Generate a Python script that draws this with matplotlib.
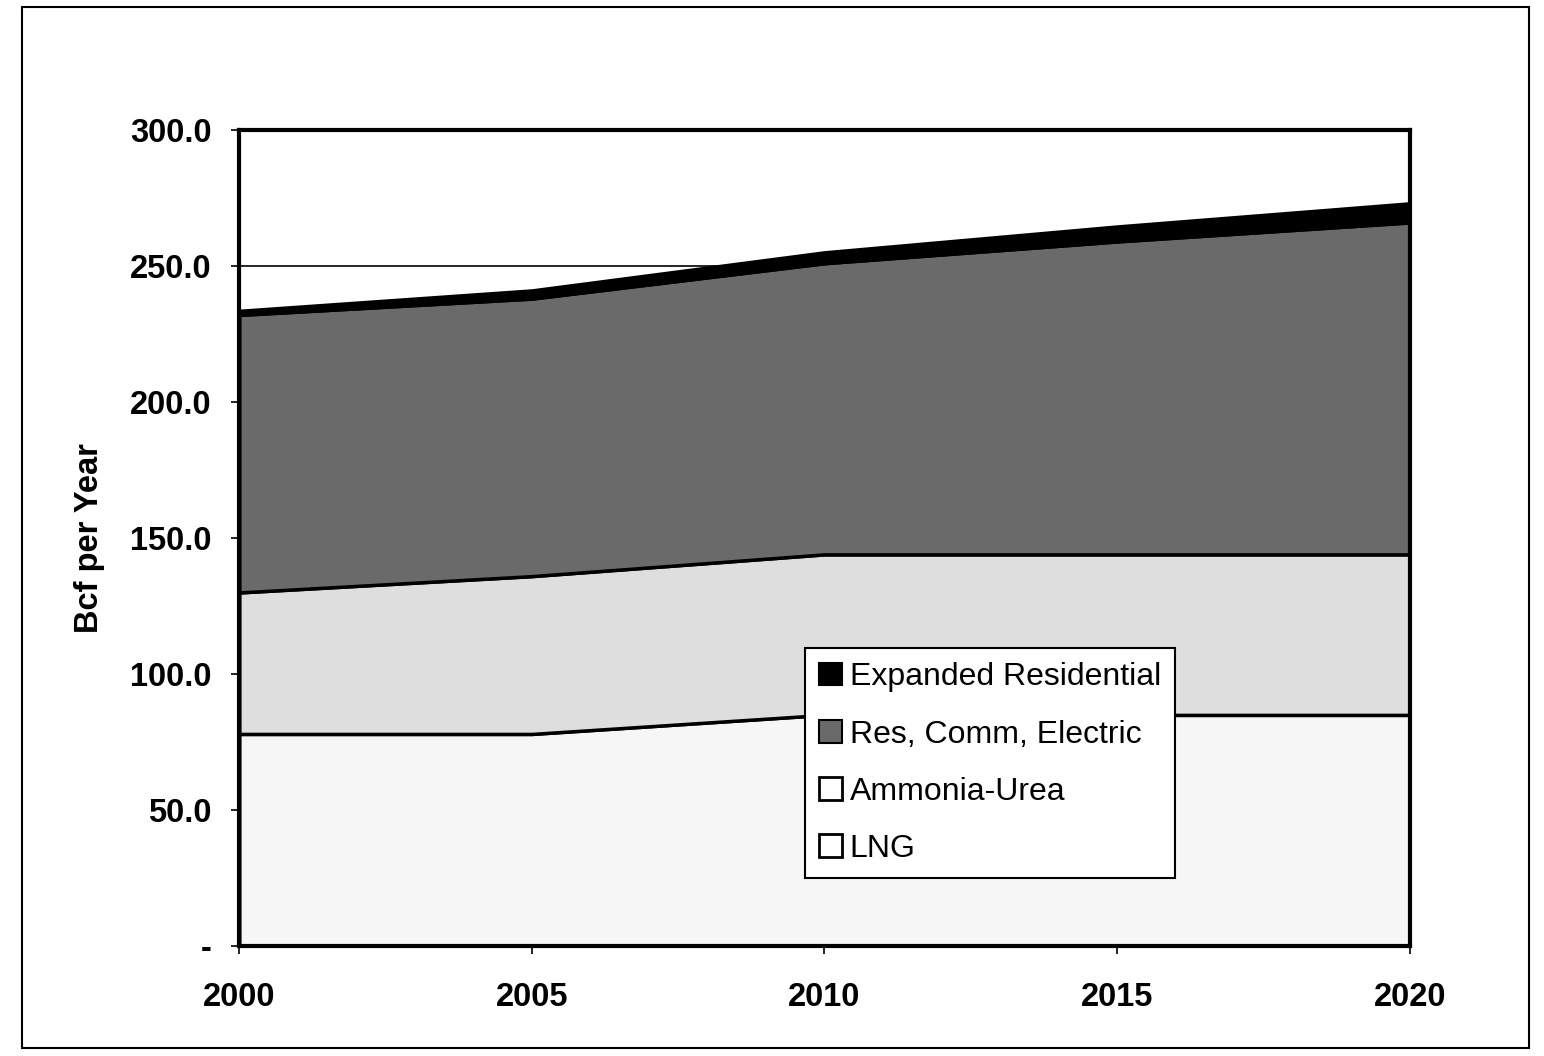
import matplotlib.pyplot as plt
from matplotlib.patches import Patch, Rectangle

# data (Bcf per year)
years = [2000, 2005, 2010, 2015, 2020]
lng = [78, 78, 85, 85, 85]
ammonia_urea = [52, 58, 59, 59, 59]
res_comm_elec = [102, 102, 107, 115, 122]
expanded_res = [1.5, 3, 4, 5.5, 7]
labels = ['LNG', 'Ammonia-Urea', 'Res, Comm, Electric', 'Expanded Residential']
colors = ['#f6f6f6', '#dedede', '#6a6a6a', '#000000']

plt.rcParams['font.family'] = ['Liberation Sans', 'DejaVu Sans']

fig = plt.figure(figsize=(15.44, 10.56), dpi=100)
ax = fig.add_axes([0.155, 0.104, 0.758, 0.773])

ax.yaxis.grid(True, color='black', linewidth=1.2, zorder=0)
ax.set_axisbelow(True)

stacks = ax.stackplot(years, lng, ammonia_urea, res_comm_elec, expanded_res,
                      colors=colors, edgecolor='black', linewidth=2.5, zorder=2)

ax.set_xlim(2000, 2020)
ax.set_ylim(0, 300)
ax.set_xticks(years)
ax.set_yticks([0, 50, 100, 150, 200, 250, 300])
ax.set_yticklabels(['-', '50.0', '100.0', '150.0', '200.0', '250.0', '300.0'])
ax.tick_params(axis='both', labelsize=23.5, direction='out', length=6, width=1.2)
ax.tick_params(axis='y', pad=14)
ax.tick_params(axis='x', pad=20)
for lab in ax.get_xticklabels() + ax.get_yticklabels():
    lab.set_fontweight('bold')

for side in ['left', 'bottom', 'top', 'right']:
    ax.spines[side].set_linewidth(3)
    ax.spines[side].set_zorder(3)

ax.set_ylabel('Bcf per Year', fontsize=23.5, fontweight='bold', labelpad=18)

handles = [Patch(facecolor=colors[3], edgecolor='black', linewidth=1.5),
           Patch(facecolor=colors[2], edgecolor='black', linewidth=1.5),
           Patch(facecolor='white', edgecolor='black', linewidth=2),
           Patch(facecolor='white', edgecolor='black', linewidth=2)]
leg = ax.legend(handles, labels[::-1], loc='upper left',
                bbox_to_anchor=(805 / 1544, 1 - 648 / 1056), bbox_transform=fig.transFigure,
                fontsize=23, frameon=True, fancybox=False, framealpha=1,
                edgecolor='black', handlelength=0.7, handleheight=0.7,
                handletextpad=0.25, labelspacing=0.85, borderpad=0.45,
                borderaxespad=0)
leg.get_frame().set_linewidth(1.5)
leg.set_zorder(5)

# outer border around the whole chart
fig.patches.append(Rectangle((0.014, 0.008), 0.976, 0.985, transform=fig.transFigure,
                             fill=False, edgecolor='black', linewidth=1.5))

fig.savefig('out.png', dpi=100)
